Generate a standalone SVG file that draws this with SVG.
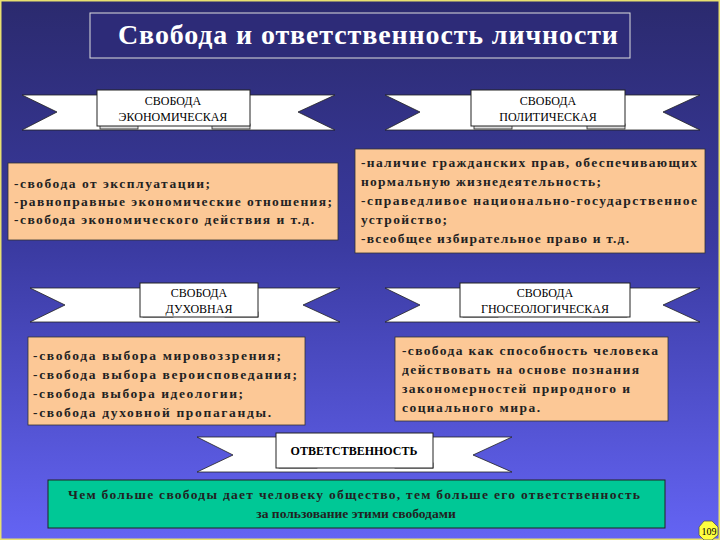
<svg xmlns="http://www.w3.org/2000/svg" width="720" height="540" viewBox="0 0 720 540">
<defs>
<linearGradient id="bg" x1="0" y1="0" x2="0" y2="1">
<stop offset="0" stop-color="#2b2a6e"/><stop offset="0.45" stop-color="#3a3aa0"/><stop offset="1" stop-color="#6464f4"/>
</linearGradient>
</defs>
<style>
.rib{fill:#fff;stroke:#222;stroke-width:0.8}
.box{fill:#fff;stroke:#222;stroke-width:1}
.fold{fill:#ddd;stroke:#222;stroke-width:0.8}
.bt{font-family:"Liberation Serif","DejaVu Serif",serif;font-size:12px;fill:#000;text-anchor:middle}
.tx{font-family:"Liberation Serif","DejaVu Serif",serif;font-size:13.5px;font-weight:bold;fill:#222}
.peach{fill:#fcc896;stroke:#333;stroke-width:0.8}
</style>
<rect width="720" height="540" fill="url(#bg)"/>
<rect x="0.75" y="0.75" width="718.5" height="538.5" fill="none" stroke="#e8e070" stroke-width="1.5"/>
<g id="title">
<rect x="90" y="13" width="540" height="45" fill="#2d2b78" stroke="#ddd" stroke-width="1"/>
<text x="368" y="44" font-family="'Liberation Serif','DejaVu Serif',serif" font-size="28" font-weight="bold" fill="#fff" text-anchor="middle" textLength="500">Свобода и ответственность личности</text>
</g>
<g id="banner-econ">
<polygon class="rib" points="22,95 335,95 298,112 335,130 22,130 57,112"/>
<rect class="fold" x="100" y="124" width="38" height="5"/><rect class="fold" x="212" y="124" width="38" height="5"/>
<rect class="box" x="97" y="90" width="153" height="36"/>
<text class="bt" x="173" y="105">СВОБОДА</text><text class="bt" x="173" y="121">ЭКОНОМИЧЕСКАЯ</text>
</g>
<g id="banner-polit">
<polygon class="rib" points="385,95 700,95 663,112 700,130 385,130 420,112"/>
<rect class="fold" x="474" y="124" width="38" height="5"/><rect class="fold" x="587" y="124" width="38" height="5"/>
<rect class="box" x="471" y="90" width="154" height="36"/>
<text class="bt" x="548" y="105">СВОБОДА</text><text class="bt" x="548" y="121">ПОЛИТИЧЕСКАЯ</text>
</g>
<g id="banner-duh">
<polygon class="rib" points="30,288 340,288 303,305 340,322 30,322 65,305"/>
<rect class="fold" x="143" y="312" width="30" height="5"/><rect class="fold" x="225" y="312" width="33" height="5"/>
<rect class="box" x="140" y="283" width="118" height="34"/>
<text class="bt" x="199" y="297">СВОБОДА</text><text class="bt" x="199" y="313">ДУХОВНАЯ</text>
</g>
<g id="banner-gnos">
<polygon class="rib" points="385,288 700,288 663,305 700,322 385,322 420,305"/>
<rect class="fold" x="463" y="312" width="35" height="5"/><rect class="fold" x="592" y="312" width="35" height="5"/>
<rect class="box" x="460" y="283" width="170" height="34"/>
<text class="bt" x="545" y="297">СВОБОДА</text><text class="bt" x="545" y="313">ГНОСЕОЛОГИЧЕСКАЯ</text>
</g>
<g id="banner-otv">
<polygon class="rib" points="197,437 512,437 473,455 512,472 197,472 233,455"/>
<rect class="fold" x="279" y="463" width="38" height="5"/><rect class="fold" x="395" y="463" width="38" height="5"/>
<rect class="box" x="276" y="433" width="157" height="35"/>
<text class="bt" x="354" y="455" font-weight="bold" font-size="12.5">ОТВЕТСТВЕННОСТЬ</text>
</g>
<g id="text-econ">
<rect class="peach" x="8" y="163" width="330" height="77"/>
<text class="tx" x="14" y="188" textLength="196">-свобода от эксплуатации;</text>
<text class="tx" x="14" y="206" textLength="318">-равноправные экономические отношения;</text>
<text class="tx" x="14" y="224" textLength="300">-свобода экономического действия и т.д.</text>
</g>
<g id="text-polit">
<rect class="peach" x="355" y="149" width="350" height="104" stroke="none"/>
<text class="tx" x="361" y="167" textLength="336">-наличие гражданских прав, обеспечивающих</text>
<text class="tx" x="361" y="186" textLength="240">нормальную жизнедеятельность;</text>
<text class="tx" x="361" y="205" textLength="336">-справедливое  национально-государственное</text>
<text class="tx" x="361" y="224" textLength="86">устройство;</text>
<text class="tx" x="361" y="243" textLength="268">-всеобщее избирательное право и т.д.</text>
</g>
<g id="text-duh">
<rect class="peach" x="28" y="337" width="277" height="88"/>
<text class="tx" x="33" y="360" textLength="248">-свобода выбора мировоззрения;</text>
<text class="tx" x="33" y="379" textLength="264">-свобода выбора вероисповедания;</text>
<text class="tx" x="33" y="398" textLength="210">-свобода выбора идеологии;</text>
<text class="tx" x="33" y="417" textLength="238">-свобода духовной пропаганды.</text>
</g>
<g id="text-gnos">
<rect class="peach" x="395" y="337" width="273" height="84"/>
<text class="tx" x="402" y="355" textLength="256">-свобода как способность человека</text>
<text class="tx" x="402" y="374" textLength="237">действовать на основе познания</text>
<text class="tx" x="402" y="393" textLength="228">закономерностей природного и</text>
<text class="tx" x="402" y="412" textLength="138">социального мира.</text>
</g>
<g id="text-green">
<rect x="48" y="480" width="617" height="48" fill="#00c896" stroke="#222" stroke-width="1"/>
<text class="tx" x="68" y="499" textLength="572">Чем больше свободы дает человеку общество, тем больше его ответственность</text>
<text class="tx" x="356" y="518" text-anchor="middle">за пользование этими свободами</text>
</g>
<g id="pagenum">
<polygon points="704,521 712,521 718,527 718,535 712,540 704,540 699,535 699,527" fill="#ffff40" stroke="#555" stroke-width="0.8"/>
<text x="709" y="535" font-family="'Liberation Serif',serif" font-size="10" text-anchor="middle" fill="#000">109</text>
</g>
</svg>
